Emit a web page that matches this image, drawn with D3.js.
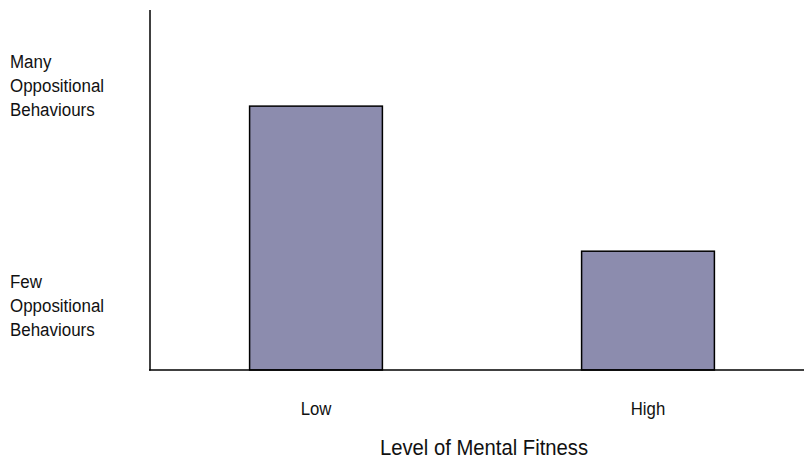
<!DOCTYPE html>
<html><head><meta charset="utf-8">
<script src="https://cdn.jsdelivr.net/npm/d3@7"></script>
<style>
body{margin:0;background:#fff;}
text{font-family:"Liberation Sans",Arial,sans-serif;fill:#111;}
</style></head>
<body><svg id="c" width="804" height="460"></svg>
<script>
const categories = ["Low", "High"];
const values = [73.3, 33];
const yLabelsTop = ["Many", "Oppositional", "Behaviours"];
const yLabelsBottom = ["Few", "Oppositional", "Behaviours"];
const xTitle = "Level of Mental Fitness";

const svg = d3.select("#c");
const x = d3.scaleBand().domain(categories).range([150, 814]).paddingInner(0.6).paddingOuter(0.3);
const y = d3.scaleLinear().domain([0, 100]).range([370, 10]);

function condense(sel, k){
  sel.each(function(){
    const L = this.getComputedTextLength();
    d3.select(this).attr("textLength", L*k).attr("lengthAdjust","spacingAndGlyphs");
  });
}

svg.selectAll("rect.bar").data(categories).join("rect")
  .attr("class","bar")
  .attr("x", d => x(d)).attr("width", x.bandwidth())
  .attr("y", (d,i) => y(values[i])).attr("height", (d,i) => y(0) - y(values[i]))
  .attr("fill", "#8c8cae").attr("stroke", "#000").attr("stroke-width", 1.5);

// axes
svg.append("line").attr("x1",150).attr("x2",150).attr("y1",y(100)).attr("y2",y(0)+0.5)
  .attr("stroke","#000").attr("stroke-width",1.5);
svg.append("line").attr("x1",149).attr("x2",804).attr("y1",y(0)).attr("y2",y(0))
  .attr("stroke","#000").attr("stroke-width",1.5);

// category labels
svg.selectAll("text.cat").data(categories).join("text")
  .attr("class","cat")
  .attr("x", d => x(d) + x.bandwidth()/2).attr("y", 415)
  .attr("text-anchor","middle").attr("font-size",18).text(d => d)
  .call(condense, 0.93);

function block(lines, yBase){
  svg.append("g").selectAll("text").data(lines).join("text")
    .attr("x", 10).attr("y", (d,i) => yBase + i*24).attr("font-size",18).text(d => d)
    .call(condense, 0.94);
}
block(yLabelsTop, 68);
block(yLabelsBottom, 288);

svg.append("text").attr("x", 484).attr("y", 455).attr("text-anchor","middle")
  .attr("font-size",22).text(xTitle).call(condense, 0.92);
</script></body></html>
